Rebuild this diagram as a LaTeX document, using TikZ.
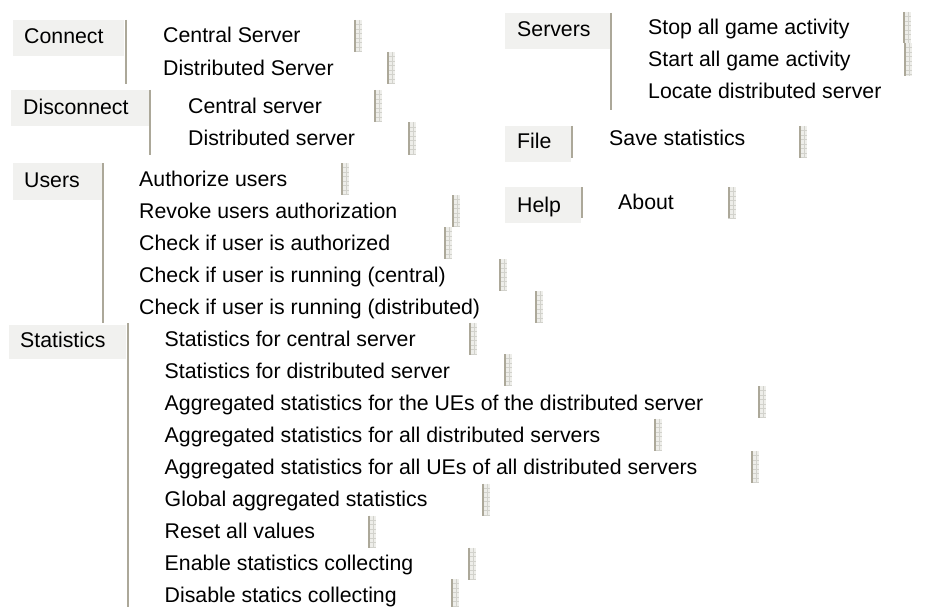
\documentclass[tikz,border=0pt]{standalone}
\usepackage{fontspec}
\setmainfont{Liberation Sans}
\definecolor{lblfill}{HTML}{F1F1EF}
\definecolor{sepcol}{HTML}{ACA899}
\definecolor{gripfill}{HTML}{EEEEEA}
\definecolor{gripline}{HTML}{D2D2CC}
\tikzset{
  lbl/.style={anchor=base west, inner sep=0pt, font=\fontsize{21.3}{25}\selectfont},
  item/.style={anchor=base west, inner sep=0pt, font=\fontsize{21.3}{25}\selectfont},
  sepline/.style={draw=sepcol, line width=2pt},
  lblbox/.style={fill=lblfill},
  grip/.style={rectangle, inner sep=0pt, minimum width=8pt, minimum height=32pt, fill=gripfill,
    path picture={
      \draw[gripline, line width=0.5pt] ([xshift=5pt]path picture bounding box.north west) -- ([xshift=5pt]path picture bounding box.south west);
      \foreach \k in {1,...,7}{
        \draw[gripline, line width=0.5pt] ([yshift=-\k*4.5pt]path picture bounding box.north west) -- ([yshift=-\k*4.5pt]path picture bounding box.north east);
      }
      \draw[sepcol, line width=2pt] ([xshift=1pt]path picture bounding box.north west) -- ([xshift=1pt]path picture bounding box.south west);
    }},
}
\begin{document}
\begin{tikzpicture}[x=1pt,y=-1pt]
\path[use as bounding box, fill=white] (0,0) rectangle (934,607);

% ---------- Connect ----------
\fill[lblbox] (12.5,20) rectangle (124,56);
\node[lbl] (connect) at (24,43.5) {Connect};
\draw[sepline] (126,20) -- (126,84);
\node[item] (c1) at (163,43) {Central Server};
\node[item] (c2) at (163,76) {Distributed Server};
\node[grip] (gc1) at (358,36) {};
\node[grip] (gc2) at (391,68) {};

% ---------- Disconnect ----------
\fill[lblbox] (11,90) rectangle (148.5,126);
\node[lbl] (disconnect) at (23,115) {Disconnect};
\draw[sepline] (150,90) -- (150,155);
\node[item] (d1) at (188,114) {Central server};
\node[item] (d2) at (188,146) {Distributed server};
\node[grip] (gd1) at (378,106) {};
\node[grip] (gd2) at (412,138.5) {};

% ---------- Users ----------
\fill[lblbox] (12.5,163) rectangle (101.5,200);
\node[lbl] (users) at (24,187.5) {Users};
\draw[sepline] (103,163) -- (103,323);
\node[item] (u1) at (139,186.5) {Authorize users};
\node[item] (u2) at (139,218.5) {Revoke users authorization};
\node[item] (u3) at (139,250.5) {Check if user is authorized};
\node[item] (u4) at (139,282.5) {Check if user is running (central)};
\node[item] (u5) at (139,314.5) {Check if user is running (distributed)};
\node[grip] (gu1) at (345,179) {};
\node[grip] (gu2) at (456,211) {};
\node[grip] (gu3) at (448,243) {};
\node[grip] (gu4) at (503,275) {};
\node[grip] (gu5) at (539,307) {};

% ---------- Statistics ----------
\fill[lblbox] (9,325) rectangle (126,359);
\node[lbl] (statistics) at (20,347) {Statistics};
\draw[sepline] (128,323) -- (128,607);
\node[item] (s1) at (164.5,346) {Statistics for central server};
\node[item] (s2) at (164.5,378) {Statistics for distributed server};
\node[item] (s3) at (164.5,410) {Aggregated statistics for the UEs of the distributed server};
\node[item] (s4) at (164.5,442) {Aggregated statistics for all distributed servers};
\node[item] (s5) at (164.5,474) {Aggregated statistics for all UEs of all distributed servers};
\node[item] (s6) at (164.5,506) {Global aggregated statistics};
\node[item] (s7) at (164.5,538) {Reset all values};
\node[item] (s8) at (164.5,570) {Enable statistics collecting};
\node[item] (s9) at (164.5,602) {Disable statics collecting};
\node[grip] (gs1) at (473,338.5) {};
\node[grip] (gs2) at (508,370) {};
\node[grip] (gs3) at (762,402) {};
\node[grip] (gs4) at (658,434.5) {};
\node[grip] (gs5) at (755,467) {};
\node[grip] (gs6) at (486,499.5) {};
\node[grip] (gs7) at (372,531.5) {};
\node[grip] (gs8) at (472,563.5) {};
\node[grip, minimum height=28pt] (gs9) at (455,593) {};

% ---------- Servers ----------
\fill[lblbox] (505,13) rectangle (610,49);
\node[lbl] (servers) at (517,37) {Servers};
\draw[sepline] (611,13) -- (611,110);
\node[item] (v1) at (648,35) {Stop all game activity};
\node[item] (v2) at (648,67) {Start all game activity};
\node[item] (v3) at (648,99) {Locate distributed server};
\node[grip, minimum height=31pt] (gv1) at (907,27.5) {};
\node[grip, minimum height=33pt] (gv2) at (908,59.5) {};

% ---------- File ----------
\fill[lblbox] (505,126) rectangle (571,162);
\node[lbl] (file) at (517,149) {File};
\draw[sepline] (572,126) -- (572,158);
\node[item] (f1) at (609,146) {Save statistics};
\node[grip] (gf1) at (803,142) {};

% ---------- Help ----------
\fill[lblbox] (505,187) rectangle (581,223);
\node[lbl] (help) at (517,212) {Help};
\draw[sepline] (582,187) -- (582,218);
\node[item] (h1) at (618,209) {About};
\node[grip, minimum height=31pt] (gh1) at (732,202.5) {};
\end{tikzpicture}
\end{document}
